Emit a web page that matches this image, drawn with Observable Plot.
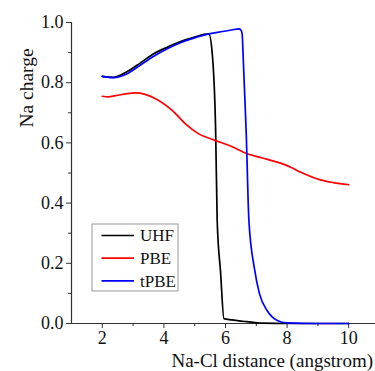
<!DOCTYPE html>
<html>
<head>
<meta charset="utf-8">
<script src="https://cdn.jsdelivr.net/npm/d3@7"></script>
<script src="https://cdn.jsdelivr.net/npm/@observablehq/plot@0.6"></script>
<style>
  html, body { margin: 0; padding: 0; background: #fff; }
  #chart { position: relative; width: 375px; height: 371px; overflow: hidden; }
  #chart svg, #chart svg text { font-family: "Liberation Serif", "Times New Roman", serif !important; }
</style>
</head>
<body>
<div id="chart"></div>
<script>
// ---- data ----
const uhfX = [2, 2.37, 2.81, 3.24, 3.67, 4.11, 4.54, 4.97, 5.46, 5.57, 5.68, 5.73, 5.84, 5.95, 6.2, 6.7, 7.2, 8, 9, 10];
const uhfY = [0.821, 0.818, 0.837, 0.866, 0.896, 0.918, 0.937, 0.951, 0.962, 0.896, 0.64, 0.342, 0.17, 0.016, 0.012, 0.006, 0.001, 0, 0, 0];

const pbeX = [2, 2.2, 2.43, 3.08, 3.73, 4.27, 4.70, 5.13, 5.62, 6.2, 6.70, 7.2, 7.68, 8.1, 8.43, 9.08, 9.5, 10];
const pbeY = [0.755, 0.753, 0.757, 0.766, 0.747, 0.708, 0.663, 0.630, 0.610, 0.588, 0.564, 0.550, 0.536, 0.520, 0.503, 0.477, 0.468, 0.461];

const tpbeX = [2, 2.37, 2.81, 3.24, 3.67, 4.11, 4.54, 4.97, 5.46, 5.9, 6.2, 6.43, 6.5, 6.54, 6.57, 6.6, 6.67, 6.76, 6.94, 7.1, 7.35, 7.68, 8, 9, 10];
const tpbeY = [0.821, 0.817, 0.830, 0.859, 0.888, 0.913, 0.933, 0.948, 0.962, 0.970, 0.975, 0.979, 0.975, 0.962, 0.896, 0.818, 0.641, 0.342, 0.182, 0.10, 0.043, 0.01, 0.002, 0, 0];

const seriesNames = ["UHF", "PBE", "tPBE"];
const seriesColors = ["#000000", "#ff0000", "#0000ff"];

const xMajorTicks = [2, 4, 6, 8, 10];
const xMinorTicks = [3, 5, 7, 9];
const yMajorTicks = [0, 0.2, 0.4, 0.6, 0.8, 1.0];
const yMinorTicks = [0.1, 0.3, 0.5, 0.7, 0.9];
const xDomain = [1, 10.87];
const yDomain = [0, 1];
const xTitle = "Na-Cl distance (angstrom)";
const yTitle = "Na charge";

// ---- build tables ----
const toRows = (xs, ys, name) => xs.map((x, i) => ({x, y: ys[i], series: name}));
const tables = [
  toRows(uhfX, uhfY, seriesNames[0]),
  toRows(pbeX, pbeY, seriesNames[1]),
  toRows(tpbeX, tpbeY, seriesNames[2])
];

const axisColor = "#333";

const plot = Plot.plot({
  width: 375,
  height: 371,
  marginLeft: 71,
  marginRight: 0,
  marginTop: 22,
  marginBottom: 48,
  style: {fontSize: "18px", color: "#000", background: "#fff", overflow: "visible"},
  x: {domain: xDomain},
  y: {domain: yDomain},
  marks: [
    Plot.axisY(yMajorTicks, {tickSize: 5, tickPadding: 3, tickFormat: d => d.toFixed(1), label: null, stroke: axisColor, fill: "#111", fontSize: 18}),
    Plot.axisY(yMinorTicks, {tickSize: 3, tickFormat: () => "", label: null, stroke: axisColor}),
    Plot.axisX(xMajorTicks, {tickSize: 5, tickPadding: 3, tickFormat: d => String(d), label: null, stroke: axisColor, fill: "#111", fontSize: 18}),
    Plot.axisX(xMinorTicks, {tickSize: 3, tickFormat: () => "", label: null, stroke: axisColor}),
    Plot.ruleX([xDomain[0]], {stroke: axisColor, strokeWidth: 1.2}),
    Plot.ruleY([yDomain[0]], {stroke: axisColor, strokeWidth: 1.2}),
    ...tables.map((t, i) => Plot.line(t, {x: "x", y: "y", stroke: seriesColors[i], strokeWidth: 1.7, curve: "monotone-x"}))
  ]
});

const svg = d3.select(plot);

// axis titles
svg.append("text")
  .attr("x", 373).attr("y", 367)
  .attr("text-anchor", "end")
  .attr("font-size", 19).attr("fill", "#111")
  .text(xTitle);
svg.append("text")
  .attr("transform", "translate(33,88) rotate(-90)")
  .attr("text-anchor", "middle")
  .attr("font-size", 19.5).attr("fill", "#111")
  .text(yTitle);

// legend box
const lg = svg.append("g").attr("transform", "translate(92,224)");
lg.append("rect").attr("x", 0).attr("y", 0).attr("width", 86).attr("height", 67)
  .attr("fill", "#fff").attr("stroke", "#999").attr("stroke-width", 1);
seriesNames.forEach((name, i) => {
  const yy = 11.5 + i * 22.7;
  lg.append("line").attr("x1", 9.5).attr("x2", 42).attr("y1", yy).attr("y2", yy)
    .attr("stroke", seriesColors[i]).attr("stroke-width", 1.7);
  lg.append("text").attr("x", 48).attr("y", yy).attr("dy", "0.35em")
    .attr("text-anchor", "start")
    .attr("font-size", 17).attr("fill", "#111")
    .text(name);
});

document.getElementById("chart").appendChild(plot);
</script>
</body>
</html>
